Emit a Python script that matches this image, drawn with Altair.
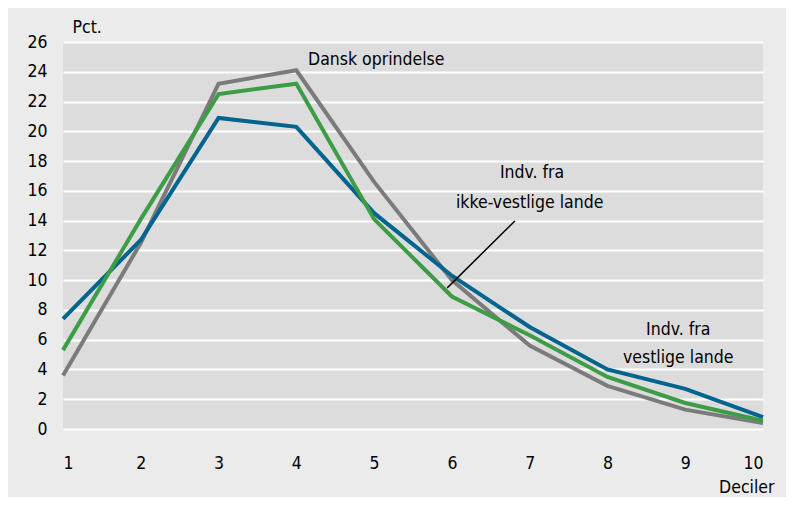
import altair as alt
import pandas as pd

deciles = [1, 2, 3, 4, 5, 6, 7, 8, 9, 10]
dansk = [3.6, 12.5, 23.2, 24.1, 16.6, 10.0, 5.6, 2.9, 1.3, 0.4]
vestlige = [7.4, 12.7, 20.9, 20.3, 14.5, 10.3, 6.85, 4.0, 2.7, 0.8]
ikke_vestlige = [5.3, 14.1, 22.5, 23.2, 14.1, 8.9, 6.3, 3.5, 1.75, 0.55]

series_names = ["Dansk oprindelse", "Indv. fra vestlige lande", "Indv. fra ikke-vestlige lande"]
series_colors = ["#7b7b7b", "#00648f", "#3c9d46"]
series_values = [dansk, vestlige, ikke_vestlige]

FONT = "DejaVu Sans Condensed, sans-serif"
FS = 17.5

xscale = alt.Scale(domain=[1, 10], nice=False, zero=False)
yscale = alt.Scale(domain=[0, 26], nice=False)

xaxis = alt.Axis(values=deciles, title="Deciler", grid=False, domain=False, ticks=False,
                 labelPadding=25, labelFontSize=FS, labelFont=FONT, labelColor="#000",
                 titleFont=FONT, titleFontSize=FS, titleFontWeight="normal", titleColor="#000",
                 titleAlign="right", titleAnchor="end", titleX=711, titleY=58,
                 titleBaseline="middle", format="d")
yaxis = alt.Axis(values=list(range(0, 27, 2)), title="Pct.", grid=True, gridColor="#ffffff",
                 gridWidth=2, domain=False, ticks=False, labelPadding=16,
                 labelFontSize=FS, labelFont=FONT, labelColor="#000",
                 titleFont=FONT, titleFontSize=FS, titleFontWeight="normal", titleColor="#000",
                 titleAngle=0, titleAlign="left", titleX=9, titleY=-15,
                 titleBaseline="middle")

X = lambda f: alt.X(f, scale=xscale, axis=xaxis)
Y = lambda f: alt.Y(f, scale=yscale, axis=yaxis)

layers = []
for name, color, vals in zip(series_names, series_colors, series_values):
    d = pd.DataFrame({"decil": deciles, "pct": vals, "serie": name})
    layers.append(
        alt.Chart(d).mark_line(strokeWidth=4, color=color).encode(
            x=X("decil:Q"), y=Y("pct:Q"),
        )
    )

labels_left = pd.DataFrame({"decil": [4.15], "pct": [24.8], "text": ["Dansk oprindelse"]})
labels_center = pd.DataFrame({
    "decil": [7.03, 7.0, 8.91, 8.91],
    "pct": [17.2, 15.2, 6.65, 4.77],
    "text": ["Indv. fra", "ikke-vestlige lande", "Indv. fra", "vestlige lande"],
})
pointer = pd.DataFrame({"decil": [6.81], "pct": [13.98], "x2": [5.94], "y2": [9.48]})

for df_l, al in [(labels_left, "left"), (labels_center, "center")]:
    layers.append(
        alt.Chart(df_l).mark_text(fontSize=FS, font=FONT, color="#000", baseline="middle", align=al).encode(
            x=X("decil:Q"), y=Y("pct:Q"), text="text:N",
        )
    )

layers.append(
    alt.Chart(pointer).mark_rule(color="#000", strokeWidth=1.5).encode(
        x=X("decil:Q"), y=Y("pct:Q"), x2="x2:Q", y2="y2:Q",
    )
)

chart = alt.layer(*layers).properties(
    width=700, height=387,
    autosize=alt.AutoSizeParams(type="none"),
    padding={"left": 55, "top": 34, "right": 23, "bottom": 68},
    background="#ebebeb",
).configure_view(fill="#dcdcdc", stroke=None)

chart.save("out.html", embed_options={"renderer": "svg", "actions": False})
